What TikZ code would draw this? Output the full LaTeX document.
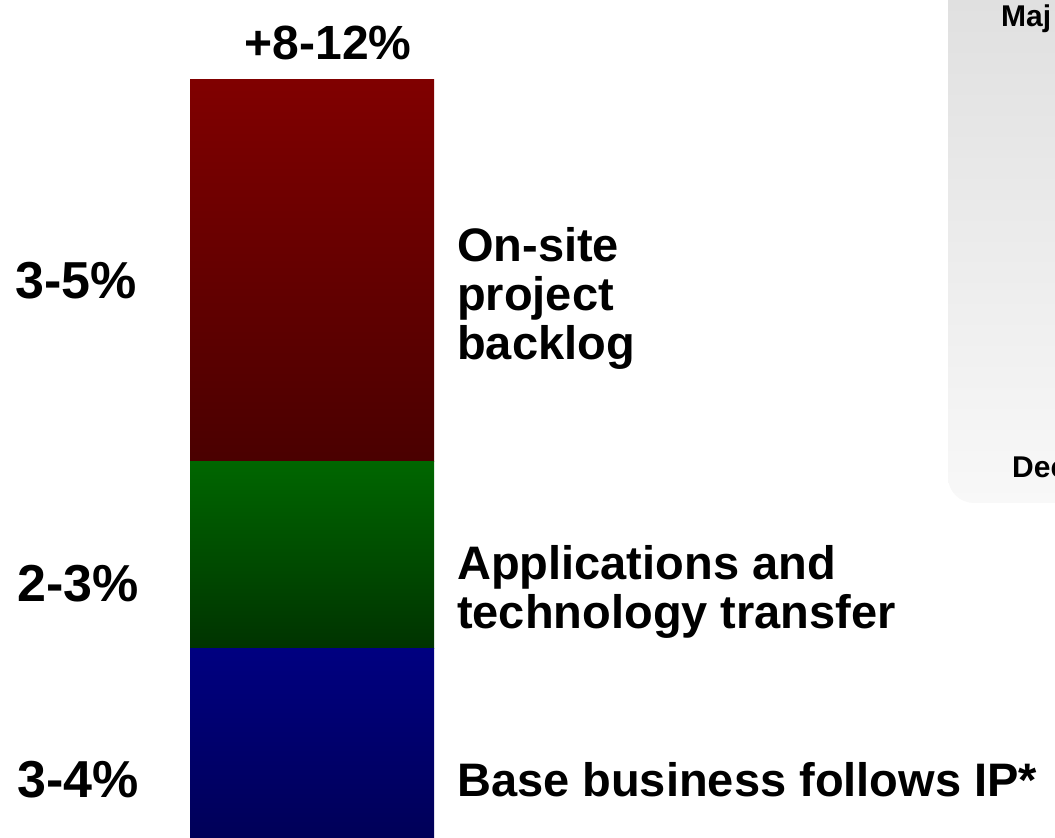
\documentclass[tikz,border=0pt]{standalone}
\usepackage{fontspec}
\setmainfont{Liberation Sans}
\definecolor{backlogtop}{HTML}{800000}
\definecolor{backlogbot}{HTML}{4A0000}
\definecolor{transfertop}{HTML}{006600}
\definecolor{transferbot}{HTML}{003300}
\definecolor{basetop}{HTML}{000080}
\definecolor{basebot}{HTML}{000058}
\definecolor{paneltop}{HTML}{DEDEDE}
\definecolor{panelbot}{HTML}{F8F8F8}

\begin{document}
\begin{tikzpicture}[x=1pt, y=1pt,
    pct/.style={font=\fontsize{52}{60}\selectfont\bfseries, anchor=base, inner sep=0pt},
    lbl/.style={font=\fontsize{47}{49}\selectfont\bfseries, anchor=base west, align=left, inner sep=0pt},
    panelnote/.style={font=\fontsize{30}{34}\selectfont\bfseries, anchor=base west, inner sep=0pt}]
    \useasboundingbox (0,0) rectangle (1055,838);
    \clip (0,0) rectangle (1055,838);

    % Side panel (cut off at the right)
    \shade[top color=paneltop, bottom color=panelbot, rounded corners=26pt] (948,335) rectangle (1100,880);
    \node[panelnote] (major) at (1001,811) {Maj};
    \node[panelnote] (dec) at (1012,360) {Dec};

    % Stacked bar
    \shade[top color=backlogtop, bottom color=backlogbot] (190,376) rectangle (434,758);
    \shade[top color=transfertop, bottom color=transferbot] (190,189) rectangle (434,376);
    \shade[top color=basetop, bottom color=basebot] (190,0) rectangle (434,189);
    \node[pct, font=\fontsize{48}{56}\selectfont\bfseries] (total) at (328,778) {+8-12\%};

    % Shares on the left
    \node[pct] (backlogpct) at (76,539) {3-5\%};
    \node[pct] (transferpct) at (78,236) {2-3\%};
    \node[pct] (basepct) at (78,40) {3-4\%};

    % Drivers on the right
    \node[lbl] (backlog) at (457,478) {On-site\\project\\backlog};
    \node[lbl] (transfer) at (457,209) {Applications and\\technology transfer};
    \node[lbl] (base) at (457,41) {Base business follows IP*};
\end{tikzpicture}
\end{document}
